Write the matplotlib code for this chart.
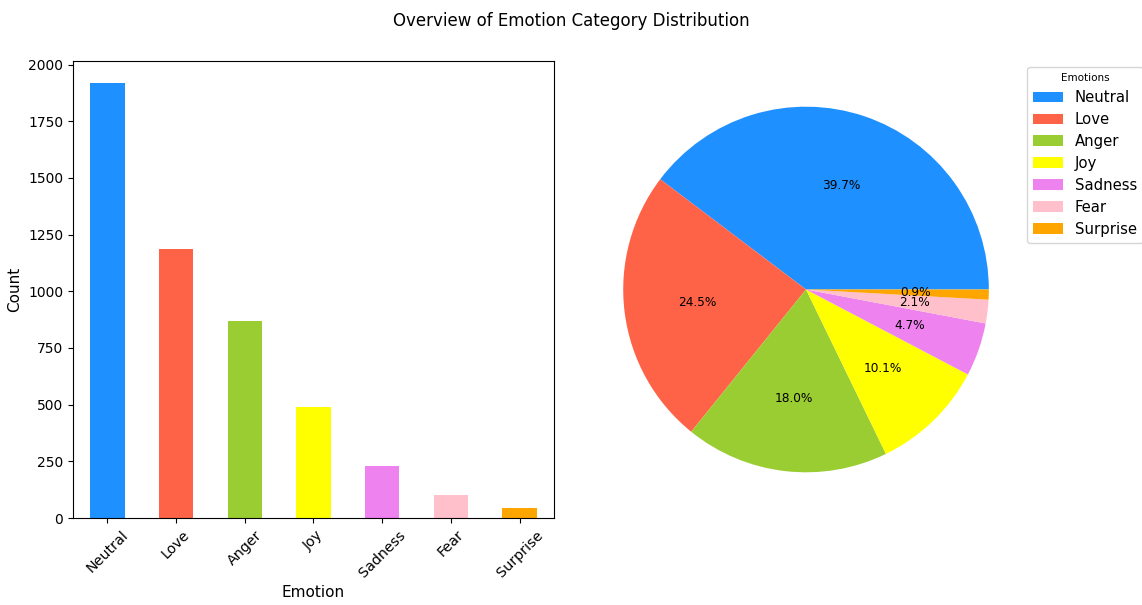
import matplotlib
matplotlib.use("Agg")
import matplotlib.pyplot as plt

# Emotion counts
emotions = ['Neutral', 'Love', 'Anger', 'Joy', 'Sadness', 'Fear', 'Surprise']
counts = [1920, 1185, 871, 489, 228, 101, 43]
colors = ['dodgerblue', 'tomato', 'yellowgreen', 'yellow', 'violet', 'pink', 'orange']

fig = plt.figure(figsize=(11.42, 6.05), dpi=100)
fig.suptitle('Overview of Emotion Category Distribution', fontsize=12)

# Bar chart
ax1 = fig.add_axes([0.0639, 0.1438, 0.4212, 0.7554])
ax1.bar(range(len(emotions)), counts, width=0.5, color=colors)
ax1.set_xlim(-0.5, len(emotions) - 0.5)
ax1.set_xticks(range(len(emotions)))
ax1.set_xticklabels(emotions, rotation=45, fontsize=10.3)
ax1.set_xlabel('Emotion', fontsize=11)
ax1.set_ylabel('Count', fontsize=11)

# Pie chart
ax2 = fig.add_axes([0.5057, 0.1438, 0.4002, 0.7554])
wedges, _, autotexts = ax2.pie(counts, colors=colors, autopct='%1.1f%%',
                               textprops={'fontsize': 8.7})
ax2.set_aspect('equal')

leg = ax2.legend(wedges, emotions, title='Emotions', loc='upper left',
                 bbox_to_anchor=(1027 / 1142, 1 - 67 / 605),
                 bbox_transform=fig.transFigure, borderaxespad=0,
                 fontsize=10.7, title_fontsize=7.5, labelspacing=0.47)

fig.savefig('out.png', dpi=100)
